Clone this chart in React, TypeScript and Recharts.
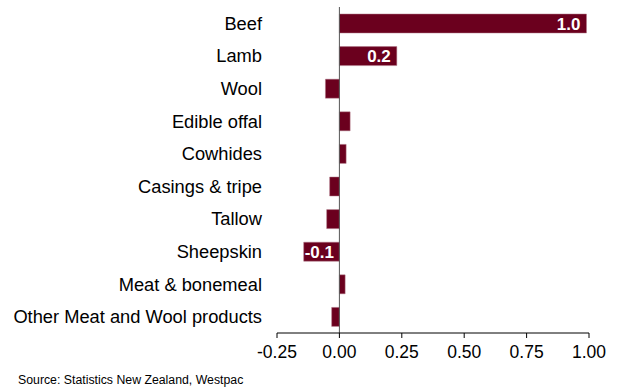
import { BarChart, Bar, XAxis, YAxis, ReferenceLine, LabelList } from 'recharts';

const categories = [
  'Beef',
  'Lamb',
  'Wool',
  'Edible offal',
  'Cowhides',
  'Casings & tripe',
  'Tallow',
  'Sheepskin',
  'Meat & bonemeal',
  'Other Meat and Wool products',
];
const values = [0.99, 0.23, -0.056, 0.043, 0.027, -0.039, -0.051, -0.143, 0.023, -0.031];
const barLabels = ['1.0', '0.2', '', '', '', '', '', '-0.1', '', ''];
const xTicks = [-0.25, 0, 0.25, 0.5, 0.75, 1];

const data = categories.map((name, i) => ({ name, value: values[i], label: barLabels[i] }));

const font = 'Arial, "Liberation Sans", sans-serif';

const renderLabel = (props: any) => {
  const { x, y, width, height, index } = props;
  const label = barLabels[index];
  if (!label) return null;
  const end = x + width;
  const positive = values[index] >= 0;
  return (
    <text
      x={positive ? end - 6 : end + 1}
      y={y + height / 2}
      dy={6}
      textAnchor={positive ? 'end' : 'start'}
      fill="#ffffff"
      fontWeight="bold"
      fontSize={17}
      fontFamily={font}
    >
      {label}
    </text>
  );
};

export default function App() {
  return (
    <div style={{ position: 'absolute', left: 0, top: 0, width: 618, height: 392, background: '#fff' }}>
      <BarChart
        width={618}
        height={392}
        data={data}
        layout="vertical"
        margin={{ top: 7, right: 29, left: 0, bottom: 29 }}
      >
        <XAxis
          type="number"
          domain={[-0.25, 1]}
          ticks={xTicks}
          tickFormatter={(v: number) => v.toFixed(2)}
          stroke="#000"
          tickSize={5}
          tickMargin={8}
          height={30}
          tick={{ fill: '#000', fontSize: 17.5, fontFamily: font }}
          allowDataOverflow
        />
        <YAxis
          type="category"
          dataKey="name"
          width={277}
          axisLine={false}
          tickLine={false}
          tickSize={0}
          tickMargin={15}
          interval={0}
          tick={{ fill: '#000', fontSize: 18.3, fontFamily: font }}
        />
        <Bar dataKey="value" fill="#6b001e" stroke="#b07888" strokeWidth={0.5} barSize={19} isAnimationActive={false}>
          <LabelList dataKey="label" content={renderLabel} />
        </Bar>
        <ReferenceLine x={0} stroke="#555" strokeWidth={1} />
      </BarChart>
      <div style={{ position: 'absolute', left: 18, top: 373, fontSize: 12.3, fontFamily: font, color: '#000' }}>
        Source: Statistics New Zealand, Westpac
      </div>
    </div>
  );
}
